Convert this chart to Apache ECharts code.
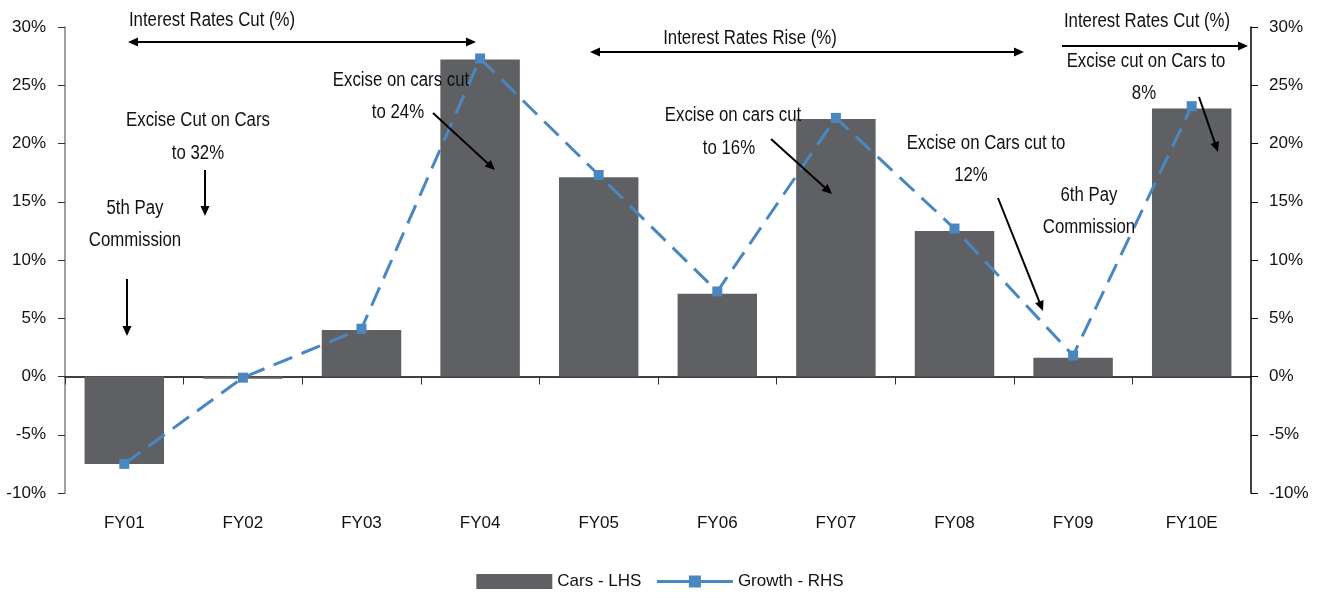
<!DOCTYPE html>
<html>
<head>
<meta charset="utf-8">
<script src="https://cdn.jsdelivr.net/npm/echarts@6/dist/echarts.min.js"></script>
<style>
  html, body { margin: 0; padding: 0; background: #fff; }
  #chart { width: 1320px; height: 598px; }
</style>
</head>
<body>
<div id="chart"></div>
<script>
// Fiscal years
const categories = ['FY01', 'FY02', 'FY03', 'FY04', 'FY05', 'FY06', 'FY07', 'FY08', 'FY09', 'FY10E'];
// Car sales growth (%), left axis
const carsLHS = [-7.5, -0.2, 4.0, 27.2, 17.1, 7.1, 22.1, 12.5, 1.6, 23.0];
// Growth (%), right axis
const growthRHS = [-7.5, -0.1, 4.1, 27.3, 17.3, 7.3, 22.2, 12.7, 1.8, 23.2];
// Axis ticks
const axisMin = -10, axisMax = 30, axisStep = 5;

const FONT = '"Liberation Sans", Arial, sans-serif';
const BAR_COLOR = '#5f6064';
const LINE_COLOR = '#4a87c1';

const chart = echarts.init(document.getElementById('chart'));

// Annotation helpers: condensed text, plain lines and filled arrow heads
function label(text, x, y) {
  return {
    type: 'text', silent: true, z: 100,
    x, y, scaleX: 0.84,
    style: { text, x: 0, y: 0, align: 'center', verticalAlign: 'middle', font: '20px ' + FONT, fill: '#111' }
  };
}
function head(x1, y1, x2, y2) {
  const a = Math.atan2(y2 - y1, x2 - x1), L = 10, W = 4.5;
  const bx = x2 - L * Math.cos(a), by = y2 - L * Math.sin(a);
  return {
    type: 'polygon', silent: true, z: 100,
    shape: { points: [[x2, y2], [bx + W * Math.sin(a), by - W * Math.cos(a)], [bx - W * Math.sin(a), by + W * Math.cos(a)]] },
    style: { fill: '#000' }
  };
}
function arrow(x1, y1, x2, y2, both) {
  const a = Math.atan2(y2 - y1, x2 - x1);
  const items = [{
    type: 'line', silent: true, z: 100,
    shape: { x1: both ? x1 + 6 * Math.cos(a) : x1, y1: both ? y1 + 6 * Math.sin(a) : y1,
             x2: x2 - 6 * Math.cos(a), y2: y2 - 6 * Math.sin(a) },
    style: { stroke: '#000', lineWidth: 2 }
  }, head(x1, y1, x2, y2)];
  if (both) items.push(head(x2, y2, x1, y1));
  return items;
}

const notes = [
  label('Interest Rates Cut (%)', 212, 20),
  ...arrow(128, 42, 476, 42, true),
  label('Interest Rates Rise (%)', 750, 38),
  ...arrow(590, 52, 1024, 52, true),
  label('Interest Rates Cut (%)', 1147, 21),
  ...arrow(1062, 46, 1248, 46, false),
  label('Excise cut on Cars to', 1146, 61),
  label('8%', 1144, 93),
  ...arrow(1199, 97, 1218, 152, false),
  label('Excise on cars cut', 401, 80),
  label('to 24%', 398, 112),
  ...arrow(433, 113, 495, 170, false),
  label('Excise Cut on Cars', 198, 120),
  label('to 32%', 198, 153),
  ...arrow(205, 170, 205, 216, false),
  label('5th Pay', 135, 208),
  label('Commission', 135, 240),
  ...arrow(127, 279, 127, 336, false),
  label('Excise on cars cut', 733, 115),
  label('to 16%', 729, 148),
  ...arrow(771, 139, 832, 194, false),
  label('Excise on Cars cut to', 986, 143),
  label('12%', 971, 175),
  ...arrow(998, 198, 1043, 311, false),
  label('6th Pay', 1089, 195),
  label('Commission', 1089, 227)
];

const option = {
  backgroundColor: '#fff',
  animation: false,
  textStyle: { fontFamily: FONT },
  grid: { left: 65, right: 69, top: 27, bottom: 105, containLabel: false },
  legend: {
    bottom: 3,
    left: 'center',
    itemWidth: 76,
    itemHeight: 15,
    itemGap: 14,
    textStyle: { fontFamily: FONT, fontSize: 17, color: '#111' },
    data: [
      { name: 'Cars - LHS', icon: 'rect' },
      { name: 'Growth - RHS', lineStyle: { type: 'solid', width: 3 } }
    ]
  },
  xAxis: [
    {
      type: 'category',
      data: categories,
      axisLine: { onZero: true, lineStyle: { color: '#000', width: 1.5 } },
      axisTick: { show: true, interval: 0, length: 8, lineStyle: { color: '#333' } },
      axisLabel: { show: false }
    },
    {
      type: 'category',
      data: categories,
      position: 'bottom',
      axisLine: { show: false, onZero: false },
      axisTick: { show: false },
      axisLabel: { show: true, interval: 0, margin: 22, fontFamily: FONT, fontSize: 17, color: '#111' }
    }
  ],
  yAxis: [
    {
      type: 'value',
      min: axisMin, max: axisMax, interval: axisStep,
      position: 'left',
      axisLine: { show: true, lineStyle: { color: '#808080', width: 1.5 } },
      axisTick: { show: true, length: 7, lineStyle: { color: '#333' } },
      splitLine: { show: false },
      axisLabel: { formatter: '{value}%', margin: 19, fontFamily: FONT, fontSize: 17, color: '#111' }
    },
    {
      type: 'value',
      min: axisMin, max: axisMax, interval: axisStep,
      position: 'right',
      axisLine: { show: true, lineStyle: { color: '#000', width: 1.5 } },
      axisTick: { show: true, length: 7, lineStyle: { color: '#000' } },
      splitLine: { show: false },
      axisLabel: { formatter: '{value}%', margin: 18, fontFamily: FONT, fontSize: 17, color: '#111' }
    }
  ],
  series: [
    {
      name: 'Cars - LHS',
      type: 'bar',
      xAxisIndex: 0,
      yAxisIndex: 0,
      data: carsLHS,
      barCategoryGap: '33%',
      itemStyle: { color: BAR_COLOR }
    },
    {
      name: 'Growth - RHS',
      type: 'line',
      xAxisIndex: 0,
      yAxisIndex: 1,
      data: growthRHS,
      symbol: 'rect',
      symbolSize: 10,
      z: 5,
      itemStyle: { color: LINE_COLOR },
      lineStyle: { color: LINE_COLOR, width: 3, type: [20, 10] }
    }
  ],
  graphic: notes
};

chart.setOption(option);
</script>
</body>
</html>
